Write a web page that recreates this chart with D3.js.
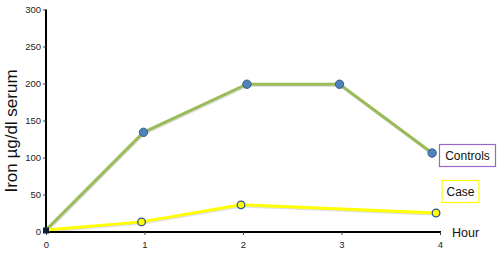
<!DOCTYPE html>
<html><head><meta charset="utf-8">
<script src="https://cdn.jsdelivr.net/npm/d3@7"></script>
<style>body{margin:0;background:#fff}svg{display:block}</style>
</head><body>
<script>
const xTicks = [0, 1, 2, 3, 4];
const yTicks = [0, 50, 100, 150, 200, 250, 300];
const controlsHours = [0, 0.99, 2.04, 2.98, 3.92];
const controlsValues = [2, 134, 199, 199, 106];
const caseHours = [0, 0.97, 1.98, 3.96];
const caseValues = [2, 13, 36, 25];
const seriesNames = ["Controls", "Case"];
const xTitle = "Hour";
const yTitle = "Iron µg/dl serum";

const W = 500, H = 254;
const svg = d3.select("body").append("svg").attr("width", W).attr("height", H)
  .style("font-family", "'Liberation Sans', Arial, sans-serif");

const x = d3.scaleLinear().domain([0, 4]).range([46, 440]);
const y = d3.scaleLinear().domain([0, 300]).range([231.5, 9.5]);

// axes
const yAxis = svg.append("g").attr("transform", `translate(${x(0)},0)`)
  .call(d3.axisLeft(y).tickValues(yTicks).tickFormat(d3.format("d")).tickSize(3).tickPadding(2));
yAxis.select(".domain").attr("stroke", "#000").attr("stroke-width", 2).attr("d", `M0,${y(300)}V${y(0)+1.5}`);
yAxis.selectAll(".tick line").attr("stroke", "#444");
yAxis.selectAll(".tick text").attr("font-size", 9.5).attr("fill", "#222");

const xAxis = svg.append("g").attr("transform", `translate(0,${y(0)+0.5})`)
  .call(d3.axisBottom(x).tickValues(xTicks).tickFormat(d3.format("d")).tickSize(3).tickPadding(6));
xAxis.select(".domain").attr("stroke", "#000").attr("stroke-width", 2.2).attr("d", `M${x(0)},0H${x(4)+1}`);
xAxis.selectAll(".tick line").attr("stroke", "#444");
xAxis.selectAll(".tick text").attr("font-size", 9.5).attr("fill", "#222");

const line = d3.line().x(d => x(d[0])).y(d => y(d[1]));
const controls = controlsHours.map((h, i) => [h, controlsValues[i]]);
const cases = caseHours.map((h, i) => [h, caseValues[i]]);

// soft shadows
[controls, cases].forEach(s => {
  svg.append("path").datum(s).attr("d", line).attr("fill", "none")
    .attr("stroke", "#000").attr("stroke-opacity", 0.12).attr("stroke-width", 3)
    .attr("transform", "translate(0.8,1.2)");
});

svg.append("path").datum(controls).attr("d", line).attr("fill", "none")
  .attr("stroke", "#9bbb59").attr("stroke-width", 3);
svg.append("path").datum(cases).attr("d", line).attr("fill", "none")
  .attr("stroke", "#ffff00").attr("stroke-width", 3);

svg.selectAll(".cm").data(controls.slice(1)).join("circle")
  .attr("cx", d => x(d[0])).attr("cy", d => y(d[1])).attr("r", 4.2)
  .attr("fill", "#4f81bd").attr("stroke", "#385d8a").attr("stroke-width", 1);
svg.selectAll(".km").data(cases.slice(1)).join("circle")
  .attr("cx", d => x(d[0])).attr("cy", d => y(d[1])).attr("r", 3.8)
  .attr("fill", "#ffff00").attr("stroke", "#2f5597").attr("stroke-width", 1.3);

// origin marker
svg.append("rect").attr("x", x(0) - 3).attr("y", y(0) - 4).attr("width", 6).attr("height", 6)
  .attr("fill", "#111d33");

// legend labels
const legends = [
  {name: seriesNames[0], x: 439.5, y: 144.5, w: 56, h: 22, stroke: "#9966cc"},
  {name: seriesNames[1], x: 442, y: 180.5, w: 37, h: 22, stroke: "#ffff00"}
];
legends.forEach(l => {
  svg.append("rect").attr("x", l.x).attr("y", l.y).attr("width", l.w).attr("height", l.h)
    .attr("fill", "#fff").attr("stroke", l.stroke).attr("stroke-width", 1.2);
  svg.append("text").attr("x", l.x + l.w / 2).attr("y", l.y + l.h / 2 + 4.5)
    .attr("text-anchor", "middle").attr("font-size", 12).attr("fill", "#111").text(l.name);
});

svg.append("text").attr("x", 452).attr("y", 237).attr("font-size", 12.5).attr("fill", "#111").text(xTitle);
svg.append("text").attr("transform", `translate(17,131) rotate(-90)`).attr("text-anchor", "middle")
  .attr("font-size", 17).attr("fill", "#111").text(yTitle);
</script>
</body></html>
